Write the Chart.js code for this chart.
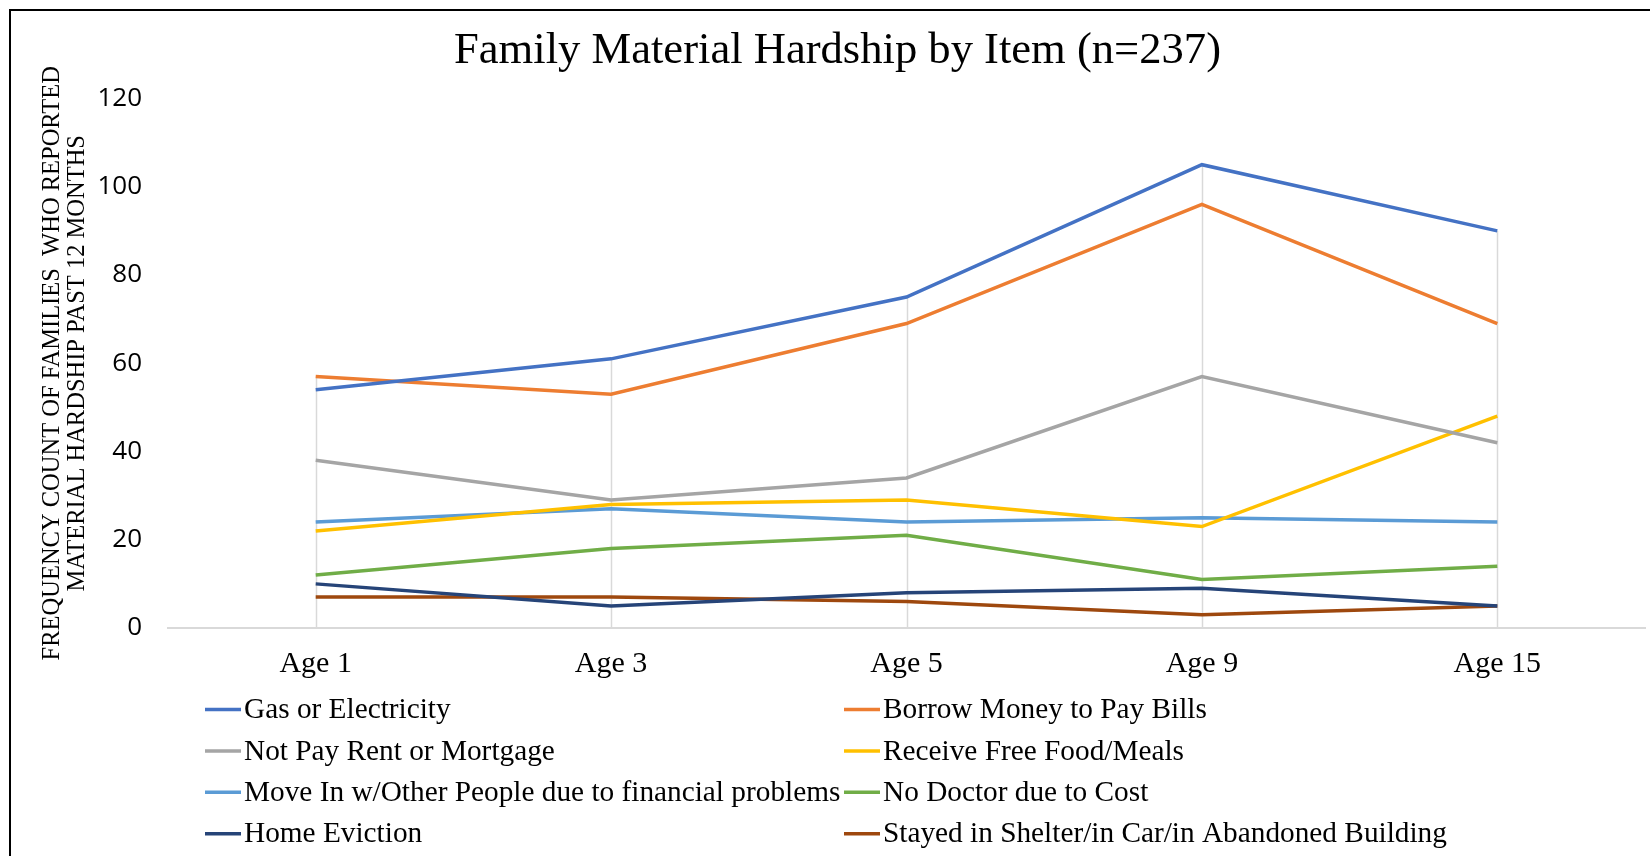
<!DOCTYPE html>
<html>
<head>
<meta charset="utf-8">
<title>Family Material Hardship by Item</title>
<script src="https://cdn.jsdelivr.net/npm/chart.js@4/dist/chart.umd.min.js"></script>
<style>
  html, body { margin: 0; padding: 0; background: #fff; }
  #wrap { position: relative; width: 1650px; height: 856px; overflow: hidden; }
  #frame { position: absolute; left: 9px; top: 9px; width: 1700px; height: 900px;
           border-left: 2px solid #000; border-top: 2px solid #000; pointer-events: none; }
</style>
</head>
<body>
<div id="wrap">
  <canvas id="hardship" width="1650" height="856"></canvas>
  <div id="frame"></div>
</div>
<script>
// survey waves
var ages = ["Age 1", "Age 3", "Age 5", "Age 9", "Age 15"];

// number of families reporting each hardship item
var gasElectric   = [54, 61, 75, 105, 90];
var borrowMoney   = [57, 53, 69, 96, 69];
var notPayRent    = [38, 29, 34, 57, 42];
var freeFood      = [22, 28, 29, 23, 48];
var moveIn        = [24, 27, 24, 25, 24];
var noDoctor      = [12, 18, 21, 11, 14];
var eviction      = [10, 5, 8, 9, 5];
var shelter       = [7, 7, 6, 3, 5];

var yTicks = [0, 20, 40, 60, 80, 100, 120];

var serif = "'Liberation Serif', 'Times New Roman', serif";
var sans = "'Open Sans', 'Noto Sans', sans-serif";

function series(label, data, color) {
    return {
        label: label,
        data: data,
        borderColor: color,
        backgroundColor: color,
        borderWidth: 3.5,
        pointRadius: 0,
        pointHoverRadius: 0,
        tension: 0,
        fill: false
    };
}

var datasets = [
    series("Gas or Electricity", gasElectric, "#4472C4"),
    series("Borrow Money to Pay Bills", borrowMoney, "#ED7D31"),
    series("Not Pay Rent or Mortgage", notPayRent, "#A5A5A5"),
    series("Receive Free Food/Meals", freeFood, "#FFC000"),
    series("Move In w/Other People due to financial problems", moveIn, "#5B9BD5"),
    series("No Doctor due to Cost", noDoctor, "#70AD47"),
    series("Home Eviction", eviction, "#264478"),
    series("Stayed in Shelter/in Car/in Abandoned Building", shelter, "#9E480E")
];

// vertical drop line from the highest point of each category down to zero
var dropLines = {
    id: 'dropLines',
    beforeDatasetsDraw: function(chart) {
        var ctx = chart.ctx;
        var x = chart.scales.x, y = chart.scales.y;
        ctx.save();
        ctx.strokeStyle = "#d9d9d9";
        ctx.lineWidth = 1.5;
        for (var i = 0; i < ages.length; i++) {
            var top = 0;
            chart.data.datasets.forEach(function(ds) { top = Math.max(top, ds.data[i]); });
            var px = Math.round(x.getPixelForValue(i)) + 0.5;
            ctx.beginPath();
            ctx.moveTo(px, y.getPixelForValue(top));
            ctx.lineTo(px, y.getPixelForValue(0));
            ctx.stroke();
        }
        ctx.restore();
    }
};

// two-column legend under the axis
var gridLegend = {
    id: 'gridLegend',
    afterDraw: function(chart, args, opts) {
        var ctx = chart.ctx;
        ctx.save();
        ctx.font = opts.fontSize + "px " + serif;
        ctx.textBaseline = "middle";
        ctx.textAlign = "left";
        chart.data.datasets.forEach(function(ds, i) {
            var col = i % 2, row = Math.floor(i / 2);
            var x0 = opts.columns[col];
            var yy = opts.top + row * opts.rowGap;
            ctx.strokeStyle = ds.borderColor;
            ctx.lineWidth = 3.5;
            ctx.beginPath();
            ctx.moveTo(x0, yy);
            ctx.lineTo(x0 + opts.swatch, yy);
            ctx.stroke();
            ctx.fillStyle = "#000";
            ctx.fillText(ds.label, x0 + opts.swatch + 3, yy + 1);
        });
        ctx.restore();
    }
};

var ctx = document.getElementById('hardship').getContext('2d');
var hardshipChart = new Chart(ctx, {
    type: 'line',
    data: { labels: ages, datasets: datasets },
    plugins: [dropLines, gridLegend],
    options: {
        responsive: false,
        animation: false,
        layout: { padding: { left: 30, right: 5, top: 10, bottom: 172 } },
        plugins: {
            legend: { display: false },
            tooltip: { enabled: false },
            title: {
                display: true,
                text: "Family Material Hardship by Item (n=237)",
                color: "#000",
                font: { family: serif, size: 44.6, weight: 'normal', lineHeight: 1.2 },
                padding: { top: 15, bottom: 20 }
            },
            gridLegend: { columns: [205, 844], top: 709.5, rowGap: 41.4, swatch: 36, fontSize: 29.3 }
        },
        scales: {
            x: {
                offset: true,
                grid: { display: false },
                border: { display: true, color: "#d9d9d9", width: 2 },
                ticks: { color: "#000", padding: 10, font: { family: serif, size: 30 } },
                afterFit: function(scale) { scale.height = 56; }
            },
            y: {
                min: 0,
                max: 120,
                grid: { display: false },
                border: { display: false },
                afterBuildTicks: function(scale) {
                    scale.ticks = yTicks.map(function(v) { return { value: v }; });
                },
                ticks: { color: "#000", padding: 18, font: { family: sans, size: 26 } },
                title: {
                    display: true,
                    text: ["FREQUENCY COUNT OF FAMILIES  WHO REPORTED", "MATERIAL HARDSHIP PAST 12 MONTHS"],
                    color: "#000",
                    font: { family: serif, size: 24.5, lineHeight: 1.03 },
                    padding: { top: 9.5, bottom: 0 }
                },
                afterFit: function(scale) { scale.width = 138; }
            }
        }
    }
});
</script>
</body>
</html>
